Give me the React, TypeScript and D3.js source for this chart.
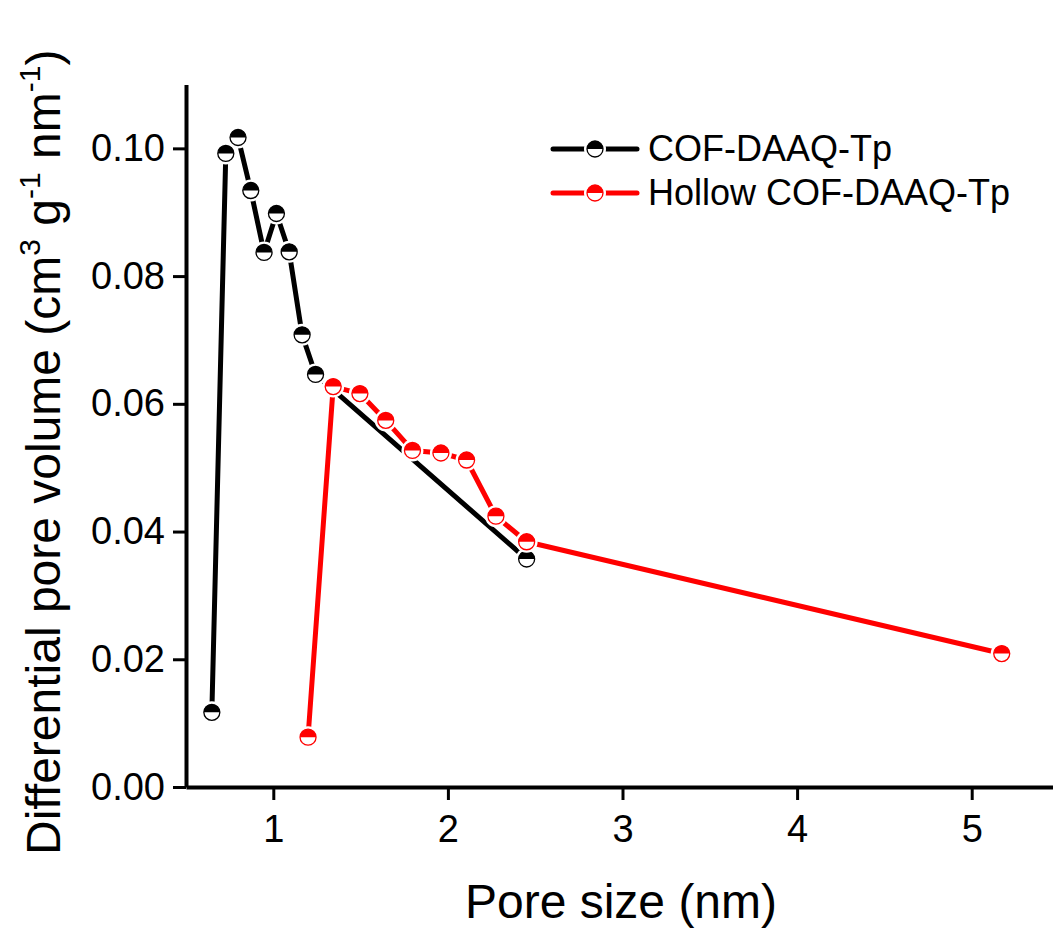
import { useEffect, useRef } from "react";
import * as d3 from "d3";

// COF-DAAQ-Tp (black)
const cofX = [0.648, 0.728, 0.798, 0.871, 0.947, 1.018, 1.091, 1.165, 1.242, 2.451];
const cofY = [0.0117, 0.0992, 0.1017, 0.0934, 0.0837, 0.0898, 0.0838, 0.0708, 0.0646, 0.0357];

// Hollow COF-DAAQ-Tp (red)
const hollowX = [1.199, 1.343, 1.496, 1.644, 1.797, 1.96, 2.107, 2.275, 2.451, 5.172];
const hollowY = [0.0078, 0.0627, 0.0616, 0.0574, 0.0527, 0.0523, 0.0512, 0.0424, 0.0384, 0.0209];

const seriesNames = ["COF-DAAQ-Tp", "Hollow COF-DAAQ-Tp"];
const seriesColors = ["#000000", "#ff0000"];

const xTicks = [1, 2, 3, 4, 5];
const xMinorTicks = [1.5, 2.5, 3.5, 4.5];
const yTicks = [0, 0.02, 0.04, 0.06, 0.08, 0.1];
const yMinorTicks = [0.01, 0.03, 0.05, 0.07, 0.09];

const FONT = "'Liberation Sans', Arial, sans-serif";

function PoreChart({ width, height }: { width: number; height: number }) {
  const svgRef = useRef<SVGSVGElement | null>(null);

  useEffect(() => {
    const svg = d3.select(svgRef.current);
    svg.selectAll("*").remove();

    const x = d3.scaleLinear().domain([0.5, 5.5]).range([186, 1059]);
    const y = d3.scaleLinear().domain([0, 0.11]).range([787, 84.5]);

    const series = [
      { name: seriesNames[0], color: seriesColors[0], pts: cofX.map((v, i) => [v, cofY[i]]) },
      { name: seriesNames[1], color: seriesColors[1], pts: hollowX.map((v, i) => [v, hollowY[i]]) },
    ];

    // x axis
    const gx = svg.append("g").attr("transform", `translate(0,${y(0)})`);
    gx.call(d3.axisBottom(x).tickValues(xMinorTicks).tickSize(7).tickSizeOuter(0).tickFormat(() => ""));
    gx.call(
      d3.axisBottom(x).tickValues(xTicks).tickSize(13).tickSizeOuter(0).tickPadding(15).tickFormat(d3.format("d"))
    );

    // y axis
    const gy = svg.append("g").attr("transform", `translate(${x(0.5)},0)`);
    gy.call(d3.axisLeft(y).tickValues(yMinorTicks).tickSize(7).tickSizeOuter(0).tickFormat(() => ""));
    gy.call(
      d3.axisLeft(y).tickValues(yTicks).tickSize(13).tickSizeOuter(0).tickPadding(8).tickFormat(d3.format(".2f"))
    );

    svg.selectAll(".domain").attr("stroke", "#000").attr("stroke-width", 4);
    svg.selectAll(".tick line").attr("stroke", "#000").attr("stroke-width", 3);
    svg.selectAll(".tick text").attr("fill", "#000").attr("font-size", 38).attr("font-family", FONT);

    // axis titles
    svg.append("text")
      .attr("x", 621)
      .attr("y", 918)
      .attr("text-anchor", "middle")
      .attr("font-size", 48)
      .attr("font-family", FONT)
      .text("Pore size (nm)");

    const yt = svg.append("text")
      .attr("transform", "translate(60,855) rotate(-90)")
      .attr("font-size", 48)
      .attr("font-family", FONT);
    yt.append("tspan").text("Differential pore volume (cm");
    yt.append("tspan").attr("font-size", 30).attr("dy", -20).text("3");
    yt.append("tspan").attr("dy", 20).text(" g");
    yt.append("tspan").attr("font-size", 30).attr("dy", -20).text("-1");
    yt.append("tspan").attr("dy", 20).text(" nm");
    yt.append("tspan").attr("font-size", 30).attr("dy", -20).text("-1");
    yt.append("tspan").attr("dy", 20).text(")");

    const line = d3.line<number[]>().x(d => x(d[0])).y(d => y(d[1]));
    const r = 8;
    const topHalf = d3.arc()({ innerRadius: 0, outerRadius: r, startAngle: -Math.PI / 2, endAngle: Math.PI / 2 } as any);

    const drawMarker = (g: any, cx: number, cy: number, color: string) => {
      g.append("circle").attr("cx", cx).attr("cy", cy).attr("r", r + 3).attr("fill", "#fff");
      g.append("circle").attr("cx", cx).attr("cy", cy).attr("r", r).attr("fill", "#fff");
      g.append("path").attr("d", topHalf).attr("transform", `translate(${cx},${cy})`).attr("fill", color);
      g.append("circle").attr("cx", cx).attr("cy", cy).attr("r", r)
        .attr("fill", "none").attr("stroke", color).attr("stroke-width", 1.3);
    };

    const plot = svg.append("g");
    series.forEach(s => {
      plot.append("path")
        .attr("d", line(s.pts as any))
        .attr("fill", "none")
        .attr("stroke", s.color)
        .attr("stroke-width", 5)
        .attr("stroke-linejoin", "round");
    });
    series.forEach(s => {
      s.pts.forEach(p => drawMarker(plot, x(p[0]), y(p[1]), s.color));
    });

    // legend
    const lg = svg.append("g");
    series.forEach((s, i) => {
      const ly = 149 + i * 44;
      lg.append("line").attr("x1", 553).attr("x2", 637).attr("y1", ly).attr("y2", ly)
        .attr("stroke", s.color).attr("stroke-width", 5).attr("stroke-linecap", "round");
      drawMarker(lg, 595, ly, s.color);
      lg.append("text")
        .attr("x", 648)
        .attr("y", ly + 12)
        .attr("font-size", 36)
        .attr("font-family", FONT)
        .text(s.name);
    });
  }, [width, height]);

  return (
    <svg
      ref={svgRef}
      width={width}
      height={height}
      style={{ position: "absolute", left: 0, top: 0, background: "#fff" }}
    />
  );
}

export default function App() {
  return <PoreChart width={1053} height={932} />;
}
